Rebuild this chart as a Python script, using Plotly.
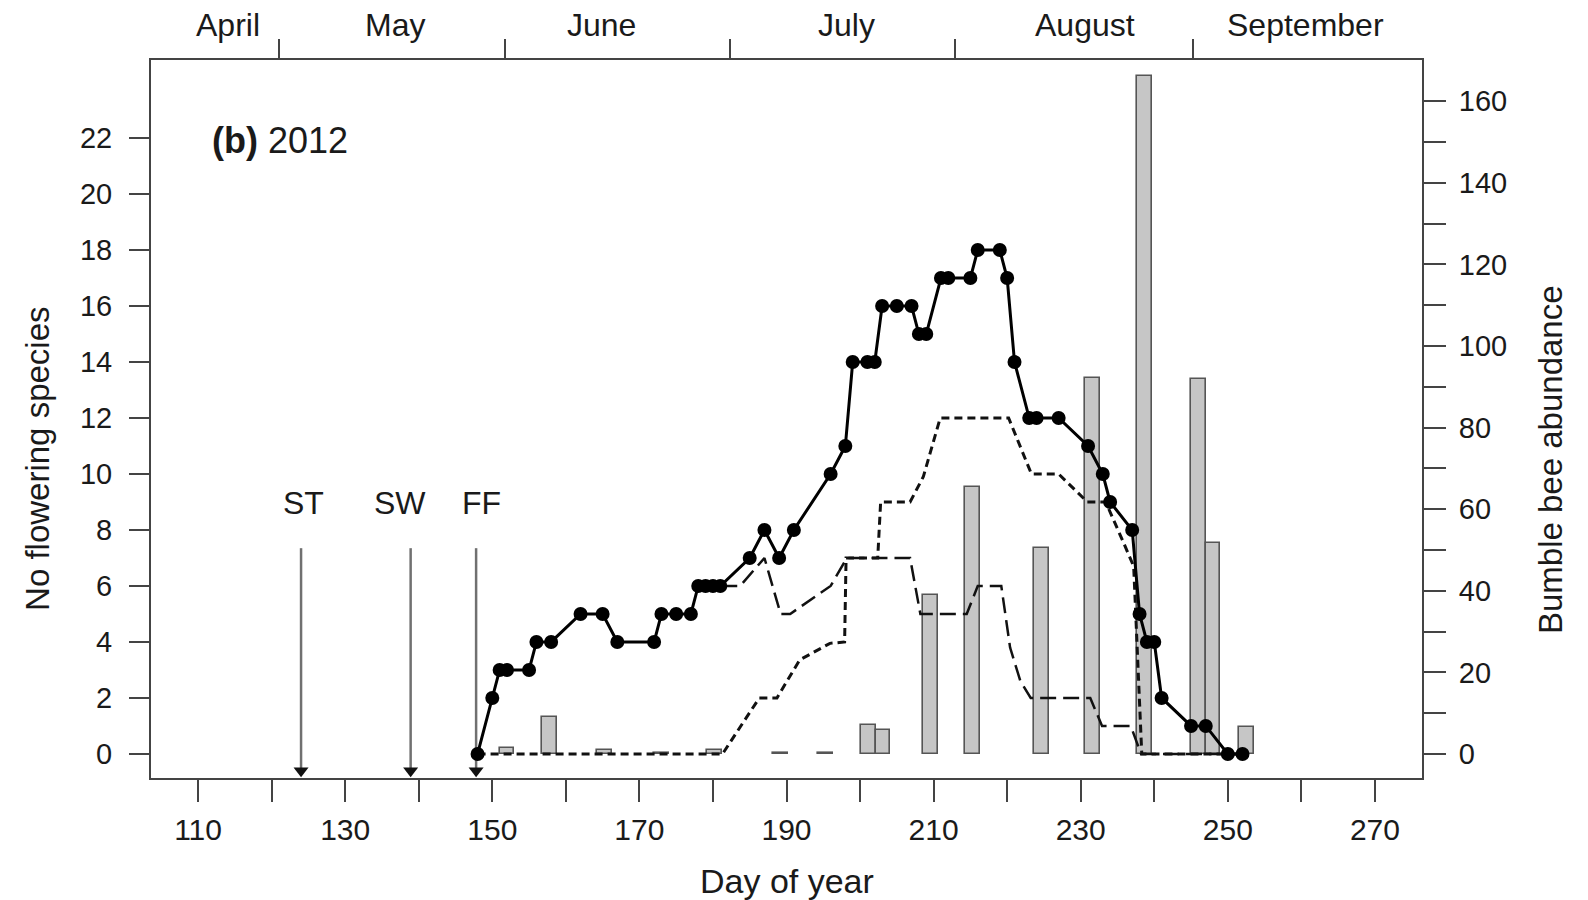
import plotly.graph_objects as go

# ---------------- data ----------------
# number of flowering species (solid line with points)
flow_days = [148, 150, 151, 152, 155, 156, 158, 162, 165, 167, 172, 173, 175, 177, 178, 179, 180, 181,
             185, 187, 189, 191, 196, 198, 199, 201, 202, 203, 205, 207, 208, 209, 211, 212, 215, 216,
             219, 220, 221, 223, 224, 227, 231, 233, 234, 237, 238, 239, 240, 241, 245, 247, 250, 252]
flow_count = [0, 2, 3, 3, 3, 4, 4, 5, 5, 4, 4, 5, 5, 5, 6, 6, 6, 6,
              7, 8, 7, 8, 10, 11, 14, 14, 14, 16, 16, 16, 15, 15, 17, 17, 17, 18,
              18, 17, 14, 12, 12, 12, 11, 10, 9, 8, 5, 4, 4, 2, 1, 1, 0, 0]

# dashed series
dash_days = [178, 183.7, 187, 189.2, 190.5, 196, 198.2, 206.8, 208.2, 214.5, 216, 219.2,
             220.4, 221.8, 223.2, 231.3, 232.9, 236.8, 238.2, 252]
dash_count = [6, 6, 7, 5, 5, 6, 7, 7, 5, 5, 6, 6,
              3.8, 2.6, 2, 2, 1, 1, 0, 0]

# dotted series
dot_days = [148, 181.3, 186.3, 188.7, 191.8, 195.9, 197.9, 198.1, 202.4, 202.8, 206.8, 208.6,
            210.9, 220.2, 223.3, 227, 230.9, 233.4, 235.9, 237.2, 238.3, 252]
dot_count = [0, 0, 2, 2, 3.36, 3.95, 4, 7, 7, 9, 9, 9.9,
             12, 12, 10, 10, 9, 9, 7.5, 6.7, 0, 0]

# bumble bee abundance (bars, right axis)
bee_days = [152.0, 157.8, 165.3, 173.0, 180.2, 189.2, 195.3, 201.1, 203.1, 209.6, 215.3,
            224.7, 231.6, 238.7, 246.0, 248.0, 252.5]
bee_abund = [1.5, 9, 1, 0, 1, 0, 0, 7, 6, 39, 65.5,
             50.4, 92.2, 166.3, 91.9, 51.7, 6.6]

# events (arrows)
event_days = [124.0, 138.9, 147.8]
event_labels = ["ST", "SW", "FF"]
event_label_days = [124.3, 137.4, 148.6]

# axes ticks
x_ticks = list(range(110, 271, 10))
x_ticktext = [str(v) if (v - 110) % 20 == 0 else "" for v in x_ticks]
left_ticks = list(range(0, 23, 2))
right_ticks = list(range(0, 161, 10))
right_ticktext = [str(v) if v % 20 == 0 else "" for v in right_ticks]

month_bounds = [121.0, 151.7, 182.3, 212.9, 245.3]
month_names = ["April", "May", "June", "July", "August", "September"]
month_label_days = [114.0, 136.8, 164.9, 198.2, 230.6, 260.5]

# ---------------- style ----------------
FONT = "Liberation Sans, Arial, Helvetica, sans-serif"
TXT = "#1a1a1a"
AXC = "#444444"
XR = [103.6, 276.4]
YL = [-0.86, 24.79]
YR = [-5.88, 170.1]

fig = go.Figure()

# bars first (drawn beneath lines); zero counts shown as flat outlines
bar_display = [max(v, 0.35) for v in bee_abund]
fig.add_trace(go.Bar(
    x=bee_days, y=bar_display, width=2.0, xaxis="x", yaxis="y",
    marker=dict(color="#c6c6c6", line=dict(color="#555555", width=1.6)),
    showlegend=False, hoverinfo="skip"))

# dummy trace for top axis
fig.add_trace(go.Scatter(x=[month_bounds[0]], y=[0], xaxis="x2", yaxis="y",
                         mode="markers", marker=dict(opacity=0), showlegend=False,
                         hoverinfo="skip"))

# event arrows
for d in event_days:
    fig.add_trace(go.Scatter(x=[d, d], y=[7.35, -0.7], xaxis="x", yaxis="y2",
                             mode="lines", line=dict(color="#707070", width=2.5),
                             showlegend=False, hoverinfo="skip"))
fig.add_trace(go.Scatter(x=event_days, y=[-0.6] * len(event_days), xaxis="x", yaxis="y2",
                         mode="markers", cliponaxis=False,
                         marker=dict(symbol="triangle-down", size=13, color="#111111"),
                         showlegend=False, hoverinfo="skip"))

# dotted and dashed series
fig.add_trace(go.Scatter(x=dot_days, y=dot_count, xaxis="x", yaxis="y2", mode="lines",
                         line=dict(color="#111111", width=3, dash="8px,5px"),
                         showlegend=False, hoverinfo="skip"))
fig.add_trace(go.Scatter(x=dash_days, y=dash_count, xaxis="x", yaxis="y2", mode="lines",
                         line=dict(color="#111111", width=2.5, dash="16px,7px"),
                         showlegend=False, hoverinfo="skip"))

# solid line with points
fig.add_trace(go.Scatter(x=flow_days, y=flow_count, xaxis="x", yaxis="y2",
                         mode="lines+markers",
                         line=dict(color="#000000", width=3),
                         marker=dict(color="#000000", size=14),
                         showlegend=False, hoverinfo="skip"))

annotations = []
for lab, d in zip(event_labels, event_label_days):
    annotations.append(dict(x=d, y=8.95, xref="x", yref="y2", text=lab, showarrow=False,
                            font=dict(family=FONT, size=32, color=TXT),
                            xanchor="center", yanchor="middle"))
for name, d in zip(month_names, month_label_days):
    annotations.append(dict(x=d, y=1.0483, xref="x", yref="paper", text=name, showarrow=False,
                            font=dict(family=FONT, size=32, color=TXT),
                            xanchor="center", yanchor="middle"))
annotations.append(dict(x=111.6, y=21.9, xref="x", yref="y2", text="<b>(b)</b> 2012",
                        showarrow=False, font=dict(family=FONT, size=36, color=TXT),
                        xanchor="left", yanchor="middle"))
annotations.append(dict(x=-0.0899, y=0.444, xref="paper", yref="paper",
                        text="No flowering species", textangle=-90, showarrow=False,
                        font=dict(family=FONT, size=33, color=TXT),
                        xanchor="center", yanchor="middle"))
annotations.append(dict(x=1.1006, y=0.444, xref="paper", yref="paper",
                        text="Bumble bee abundance", textangle=-90, showarrow=False,
                        font=dict(family=FONT, size=33, color=TXT),
                        xanchor="center", yanchor="middle"))
annotations.append(dict(x=0.5, y=-0.1435, xref="paper", yref="paper",
                        text="Day of year", showarrow=False,
                        font=dict(family=FONT, size=34, color=TXT),
                        xanchor="center", yanchor="middle"))

fig.update_layout(
    width=1588, height=900, autosize=False,
    margin=dict(l=151, r=166, t=60, b=122, pad=0),
    paper_bgcolor="white", plot_bgcolor="white",
    font=dict(family=FONT, color=TXT),
    bargap=0, barmode="overlay",
    annotations=annotations,
    xaxis=dict(range=XR, showgrid=False, zeroline=False, showline=True, linecolor=AXC,
               linewidth=2, ticks="outside", ticklen=22, tickwidth=2, tickcolor=AXC,
               tickvals=x_ticks, ticktext=x_ticktext, tickfont=dict(size=30, family=FONT, color=TXT),
               ticklabelstandoff=2, anchor="y", side="bottom"),
    xaxis2=dict(range=XR, overlaying="x", side="top", anchor="y", showgrid=False,
                zeroline=False, showline=True, linecolor=AXC, linewidth=2, ticks="outside",
                ticklen=19, tickwidth=2, tickcolor=AXC, tickvals=month_bounds,
                showticklabels=False),
    yaxis=dict(range=YR, side="right", showgrid=False, zeroline=False, showline=True,
               linecolor=AXC, linewidth=2, ticks="outside", ticklen=22, tickwidth=2,
               tickcolor=AXC, tickvals=right_ticks, ticktext=right_ticktext,
               tickfont=dict(size=29, family=FONT, color=TXT), ticklabelstandoff=7,
               anchor="x"),
    yaxis2=dict(range=YL, overlaying="y", side="left", showgrid=False, zeroline=False,
                showline=True, linecolor=AXC, linewidth=2, ticks="outside", ticklen=20,
                tickwidth=2, tickcolor=AXC, tickvals=left_ticks,
                tickfont=dict(size=29, family=FONT, color=TXT), ticklabelstandoff=11,
                anchor="x"),
)

fig.write_html("out.html", config={"displayModeBar": False},
               post_script="document.body.style.margin='0';document.body.style.overflow='hidden';")
